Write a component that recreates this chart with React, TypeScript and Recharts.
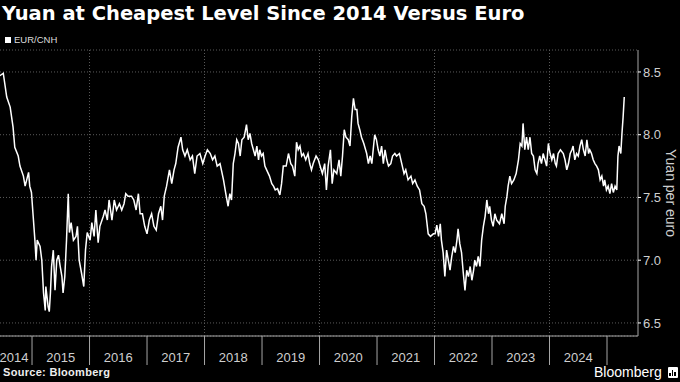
import { CartesianGrid, Line, LineChart, ReferenceLine, XAxis, YAxis } from "recharts";

// EUR/CNH (decimal year, yuan per euro)
const DATES = [
  2014.44, 2014.5, 2014.56, 2014.62, 2014.67, 2014.7, 2014.76, 2014.79, 2014.85, 2014.88, 2014.94, 2014.96, 2014.99,
  2015.02, 2015.05, 2015.07, 2015.09, 2015.14, 2015.17, 2015.2, 2015.23, 2015.24, 2015.28, 2015.3, 2015.32, 2015.34,
  2015.37, 2015.4, 2015.43, 2015.46, 2015.49, 2015.52, 2015.54, 2015.57, 2015.6, 2015.63, 2015.65, 2015.68, 2015.72,
  2015.765, 2015.79, 2015.82, 2015.86, 2015.9, 2015.93, 2015.96, 2016.01, 2016.04, 2016.08, 2016.11, 2016.15, 2016.18,
  2016.24, 2016.27, 2016.31, 2016.34, 2016.39, 2016.43, 2016.47, 2016.52, 2016.56, 2016.6, 2016.63, 2016.67, 2016.73,
  2016.77, 2016.81, 2016.85, 2016.88, 2016.92, 2016.96, 2017.0, 2017.04, 2017.08, 2017.12, 2017.16, 2017.2, 2017.24,
  2017.27, 2017.3, 2017.34, 2017.39, 2017.43, 2017.47, 2017.5, 2017.54, 2017.59, 2017.62, 2017.66, 2017.7, 2017.75,
  2017.79, 2017.83, 2017.87, 2017.92, 2017.97, 2018.01, 2018.05, 2018.1, 2018.14, 2018.18, 2018.22, 2018.27, 2018.33,
  2018.37, 2018.41, 2018.44, 2018.47, 2018.5, 2018.53, 2018.56, 2018.59, 2018.62, 2018.65, 2018.69, 2018.73, 2018.76,
  2018.79, 2018.82, 2018.85, 2018.88, 2018.91, 2018.94, 2018.96, 2018.99, 2019.02, 2019.05, 2019.08, 2019.13, 2019.17,
  2019.2, 2019.23, 2019.27, 2019.31, 2019.34, 2019.37, 2019.42, 2019.46, 2019.5, 2019.53, 2019.57, 2019.6, 2019.63,
  2019.66, 2019.69, 2019.72, 2019.76, 2019.8, 2019.83, 2019.86, 2019.89, 2019.94, 2019.98, 2020.01, 2020.05, 2020.09,
  2020.12, 2020.15, 2020.19, 2020.22, 2020.25, 2020.3, 2020.34, 2020.37, 2020.4, 2020.43, 2020.46, 2020.5, 2020.53,
  2020.56, 2020.59, 2020.62, 2020.65, 2020.67, 2020.7, 2020.73, 2020.77, 2020.82, 2020.85, 2020.88, 2020.91, 2020.94,
  2020.96, 2020.99, 2021.02, 2021.05, 2021.08, 2021.11, 2021.14, 2021.17, 2021.2, 2021.24, 2021.27, 2021.31, 2021.34,
  2021.39, 2021.43, 2021.47, 2021.5, 2021.54, 2021.59, 2021.62, 2021.66, 2021.7, 2021.74, 2021.78, 2021.82, 2021.85,
  2021.89, 2021.93, 2021.98, 2022.01, 2022.04, 2022.07, 2022.1, 2022.12, 2022.15, 2022.18, 2022.21, 2022.24, 2022.27,
  2022.3, 2022.33, 2022.36, 2022.39, 2022.41, 2022.44, 2022.47, 2022.5, 2022.53, 2022.56, 2022.59, 2022.62, 2022.65,
  2022.68, 2022.7, 2022.73, 2022.76, 2022.79, 2022.82, 2022.85, 2022.88, 2022.91, 2022.94, 2022.96, 2022.99, 2023.02,
  2023.05, 2023.08, 2023.13, 2023.17, 2023.21, 2023.23, 2023.26, 2023.28, 2023.31, 2023.34, 2023.38, 2023.42, 2023.46,
  2023.49, 2023.52, 2023.54, 2023.57, 2023.6, 2023.63, 2023.66, 2023.69, 2023.72, 2023.75, 2023.78, 2023.8, 2023.83,
  2023.86, 2023.89, 2023.92, 2023.95, 2023.98, 2024.01, 2024.04, 2024.07, 2024.1, 2024.12, 2024.15, 2024.19, 2024.24,
  2024.27, 2024.3, 2024.33, 2024.36, 2024.39, 2024.41, 2024.44, 2024.47, 2024.5, 2024.53, 2024.56, 2024.59, 2024.62,
  2024.65, 2024.68, 2024.7, 2024.73, 2024.76, 2024.79, 2024.82, 2024.85, 2024.88, 2024.91, 2024.94, 2024.96, 2024.99,
  2025.02, 2025.05, 2025.08, 2025.11, 2025.14, 2025.17, 2025.19, 2025.21, 2025.24, 2025.26, 2025.28, 2025.3,
];

const EUR_CNH = [
  8.47, 8.49, 8.3, 8.22, 8.06, 7.9, 7.83, 7.75, 7.67, 7.59, 7.7, 7.59, 7.54,
  7.35, 7.16, 7.0, 7.16, 7.11, 7.0, 6.74, 6.6, 6.79, 6.63, 6.59, 6.74, 6.95,
  7.08, 6.76, 7.0, 7.04, 6.95, 6.87, 6.74, 6.87, 7.16, 7.53, 7.22, 7.3, 7.16,
  7.19, 7.27, 7.0, 6.9, 6.79, 7.08, 7.22, 7.16, 7.3, 7.19, 7.4, 7.14, 7.27,
  7.35, 7.4, 7.32, 7.48, 7.32, 7.48, 7.4, 7.45, 7.4, 7.45, 7.53, 7.51, 7.51,
  7.48, 7.4, 7.53, 7.37, 7.37, 7.27, 7.21, 7.32, 7.37, 7.27, 7.24, 7.37, 7.43,
  7.32, 7.51, 7.59, 7.72, 7.61, 7.72, 7.77, 7.9, 7.98, 7.88, 7.83, 7.88, 7.8,
  7.83, 7.69, 7.83, 7.85, 7.77, 7.83, 7.88, 7.85, 7.8, 7.83, 7.75, 7.77, 7.64,
  7.53, 7.43, 7.53, 7.48, 7.77, 7.85, 7.96, 7.93, 7.83, 7.96, 7.98, 8.08, 7.96,
  8.01, 7.93, 7.88, 7.83, 7.91, 7.8, 7.88, 7.83, 7.85, 7.75, 7.72, 7.67, 7.61,
  7.59, 7.56, 7.57, 7.52, 7.61, 7.75, 7.75, 7.85, 7.77, 7.75, 7.67, 7.94, 7.88,
  7.91, 7.83, 7.85, 7.8, 7.85, 7.77, 7.72, 7.77, 7.83, 7.8, 7.75, 7.69, 7.77,
  7.56, 7.75, 7.88, 7.61, 7.72, 7.69, 7.8, 7.67, 7.83, 8.04, 7.98, 7.96, 7.91,
  8.14, 8.29, 8.2, 8.2, 8.09, 8.04, 7.98, 7.93, 7.85, 7.77, 7.83, 7.77, 7.91,
  8.0, 7.96, 7.88, 7.83, 7.91, 7.77, 7.88, 7.8, 7.75, 7.77, 7.83, 7.85, 7.83,
  7.85, 7.77, 7.69, 7.72, 7.64, 7.67, 7.61, 7.64, 7.59, 7.56, 7.45, 7.43, 7.37,
  7.21, 7.19, 7.21, 7.21, 7.28, 7.19, 7.29, 7.16, 7.06, 6.87, 7.08, 7.0, 6.92,
  7.03, 7.11, 7.06, 7.16, 7.25, 7.13, 7.06, 6.9, 6.76, 6.92, 6.87, 6.95, 6.84,
  6.92, 7.0, 6.95, 7.03, 6.95, 7.16, 7.27, 7.35, 7.48, 7.37, 7.43, 7.32, 7.27,
  7.37, 7.32, 7.29, 7.37, 7.29, 7.43, 7.51, 7.59, 7.67, 7.61, 7.64, 7.69, 7.8,
  7.93, 7.91, 8.09, 7.88, 7.98, 7.88, 7.98, 7.85, 7.83, 7.72, 7.69, 7.77, 7.83,
  7.77, 7.85, 7.8, 7.75, 7.93, 7.85, 7.8, 7.85, 7.77, 7.75, 7.85, 7.88, 7.85,
  7.8, 7.72, 7.77, 7.85, 7.88, 7.91, 7.8, 7.85, 7.83, 7.91, 7.96, 7.88, 7.83,
  7.96, 7.85, 7.88, 7.85, 7.8, 7.77, 7.75, 7.72, 7.64, 7.67, 7.59, 7.64, 7.56,
  7.59, 7.53, 7.61, 7.54, 7.59, 7.56, 7.83, 7.91, 7.85, 8.01, 8.14, 8.3,
];

const YEAR_STARTS = [2015, 2016, 2017, 2018, 2019, 2020, 2021, 2022, 2023, 2024, 2025];
const GRID_YEARS = [2016, 2018, 2020, 2022, 2024];
const Y_TICKS = [6.5, 7.0, 7.5, 8.0, 8.5];

const X_DOMAIN: [number, number] = [2014.443, 2025.539];
const Y_DOMAIN: [number, number] = [6.396, 8.675];

const data = DATES.map((t, i) => ({ t, v: EUR_CNH[i] }));

const AXIS = "#a6a6a6";
const LABEL = "#cfcfcf";
const PLOT_W = 638;
const HALF_YEAR = PLOT_W / (X_DOMAIN[1] - X_DOMAIN[0]) / 2;

// each year-start tick also labels the year before it, centred in its band
function YearTick({ x, payload }: any) {
  const cx = Math.max(x - HALF_YEAR, 14);
  return (
    <text x={cx} y={357} textAnchor="middle" dominantBaseline="central" fill={LABEL} fontSize={13} fontFamily="Liberation Sans, Arial, sans-serif">
      {payload.value - 1}
    </text>
  );
}

export default function App() {
  return (
    <div style={{ position: "fixed", left: 0, top: 0, width: 680, height: 382, background: "#000", overflow: "hidden" }}>
      <div style={{ position: "absolute", left: 2, top: 2, lineHeight: "24px", fontSize: 19.5, fontWeight: 700, color: "#fff", fontFamily: "DejaVu Sans, sans-serif", whiteSpace: "nowrap" }}>
        Yuan at Cheapest Level Since 2014 Versus Euro
      </div>
      <div style={{ position: "absolute", left: 5, top: 34, display: "flex", alignItems: "center", gap: 3, fontSize: 9.5, color: "#ddd", fontFamily: "Liberation Sans, Arial, sans-serif" }}>
        <span style={{ width: 6, height: 6, background: "#fff", display: "inline-block" }} />
        EUR/CNH
      </div>

      <LineChart width={680} height={382} data={data} margin={{ top: 50, right: 0, bottom: 16, left: 0 }}>
        <CartesianGrid vertical={false} stroke="#5a5a5a" strokeDasharray="1 2" />
        <XAxis
          dataKey="t"
          type="number"
          domain={X_DOMAIN}
          ticks={YEAR_STARTS}
          allowDataOverflow
          height={30}
          stroke={AXIS}
          tickSize={29}
          tickLine={{ stroke: AXIS }}
          tick={<YearTick />}
          interval={0}
        />
        <YAxis
          orientation="right"
          width={42}
          domain={Y_DOMAIN}
          ticks={Y_TICKS}
          allowDataOverflow
          stroke={AXIS}
          tickSize={3}
          tickMargin={2}
          tickLine={{ stroke: "#fff" }}
          tickFormatter={(v: number) => v.toFixed(1)}
          tick={{ fill: LABEL, fontSize: 13, fontFamily: "Liberation Sans, Arial, sans-serif" }}
        />
        {GRID_YEARS.map((yr) => (
          <ReferenceLine key={yr} x={yr} stroke="#5a5a5a" strokeDasharray="1 2" />
        ))}
        <Line type="linear" dataKey="v" stroke="#fff" strokeWidth={1.5} dot={false} isAnimationActive={false} />
      </LineChart>

      <div style={{ position: "absolute", left: 671, top: 193, transform: "translate(-50%, -50%) rotate(90deg)", fontSize: 14, color: LABEL, fontFamily: "Liberation Sans, Arial, sans-serif", whiteSpace: "nowrap" }}>
        Yuan per euro
      </div>
      <div style={{ position: "absolute", left: 3, top: 366, fontSize: 11, fontWeight: 700, color: "#eee", fontFamily: "Liberation Sans, Arial, sans-serif", letterSpacing: 0.3 }}>
        Source: Bloomberg
      </div>
      <div style={{ position: "absolute", left: 594, top: 364, fontSize: 14, color: "#fff", fontFamily: "Liberation Sans, Arial, sans-serif", display: "flex", alignItems: "center", gap: 6 }}>
        Bloomberg
        <span style={{ width: 10, height: 11, background: "#fff", borderRadius: 1, display: "inline-flex", alignItems: "flex-end", justifyContent: "center", gap: 1, padding: "0 1px 2px", boxSizing: "border-box" }}>
          <span style={{ width: 1.5, height: 3, background: "#000" }} />
          <span style={{ width: 1.5, height: 6, background: "#000" }} />
          <span style={{ width: 1.5, height: 4, background: "#000" }} />
        </span>
      </div>
    </div>
  );
}
